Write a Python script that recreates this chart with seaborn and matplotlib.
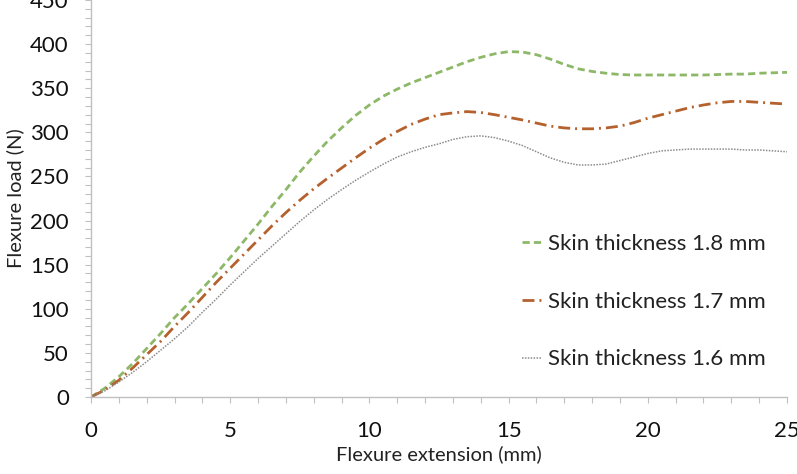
import matplotlib.pyplot as plt
import matplotlib.ticker as mticker
import pandas as pd
import seaborn as sns

# Flexure extension (mm), every 0.5 mm
extension = [i * 0.5 for i in range(51)]

# Flexure load (N)
load_18 = [0, 10, 23, 38, 55, 72, 90, 106, 123, 140,
           158, 177, 196, 216, 235, 255, 273, 290, 305, 319,
           331, 341, 349, 356, 362, 368, 374, 380, 385, 389,
           391.5, 391, 388, 383, 377, 372, 369, 367, 365.5, 365,
           365, 365, 365, 365, 365, 365.5, 366, 366, 367, 367.5,
           368]
load_17 = [0, 8, 19, 33, 48, 63, 80, 96, 113, 130,
           146, 162, 178, 194, 209, 223, 236, 248, 259.5, 271,
           282, 292, 301, 309, 315, 320, 322, 323.5, 322.5, 320,
           317, 314, 310.5, 307, 305, 304, 304, 305, 307, 311,
           316, 320, 324, 328, 331, 333.5, 335, 335, 334, 333,
           332]
load_16 = [0, 7, 17, 28, 40, 53, 66, 80, 96, 111,
           127, 142, 157, 171, 185, 199, 212, 224, 235, 245.5,
           255, 264, 272, 278, 283, 287, 292, 295, 296, 294,
           290, 285, 278, 271, 266, 263, 263, 264, 268, 272,
           276, 279, 280, 281, 281, 281, 281, 280, 280, 279,
           278]

labels = ["Skin thickness 1.8 mm", "Skin thickness 1.7 mm", "Skin thickness 1.6 mm"]

sns.set_style("ticks")
plt.rcParams['font.family'] = ['Lato', 'DejaVu Sans']

fig = plt.figure(figsize=(7.97, 4.74), dpi=100)
ax = fig.add_axes([91 / 797, 77 / 474, 696 / 797, 397 / 474])

styles = [
    (load_18, '#8db868', 2.0, (0, (2.6, 1.5))),
    (load_17, '#b5612d', 2.0, (0, (4.3, 1.8, 0.7, 1.8))),
    (load_16, '#8c8c8c', 1.1, (0, (1, 0.9))),
]
for (vals, color, lw, ls), lab in zip(styles, labels):
    df = pd.DataFrame({'x': extension, 'y': vals})
    sns.lineplot(data=df, x='x', y='y', ax=ax, color=color, linewidth=lw,
                 linestyle=ls, label=lab)

ax.set_xlim(0, 25)
ax.set_ylim(0, 450)
ax.xaxis.set_major_locator(mticker.MultipleLocator(5))
ax.xaxis.set_minor_locator(mticker.MultipleLocator(1))
ax.yaxis.set_major_locator(mticker.MultipleLocator(50))
ax.yaxis.set_minor_locator(mticker.MultipleLocator(10))

for side in ['top', 'right']:
    ax.spines[side].set_visible(False)
for side in ['left', 'bottom']:
    ax.spines[side].set_color('#c0c0c0')
    ax.spines[side].set_linewidth(1.0)

ax.tick_params(which='both', direction='out', length=4, width=0.8,
               color='#c0c0c0', labelsize=16, labelcolor='#111111')
ax.tick_params(axis='x', which='major', pad=13)
ax.tick_params(axis='y', which='major', pad=12)

ax.set_xlabel('Flexure extension (mm)', fontsize=14.5, color='#222222', labelpad=3)
ax.set_ylabel('Flexure load (N)', fontsize=14.5, color='#222222', labelpad=4)

leg = ax.legend(loc='center left', bbox_to_anchor=(0.591, 0.24), frameon=False,
                fontsize=16, handlelength=0.9, handletextpad=0.25,
                labelspacing=1.7)
for t in leg.get_texts():
    t.set_color('#222222')

fig.savefig('out.png', dpi=100)
